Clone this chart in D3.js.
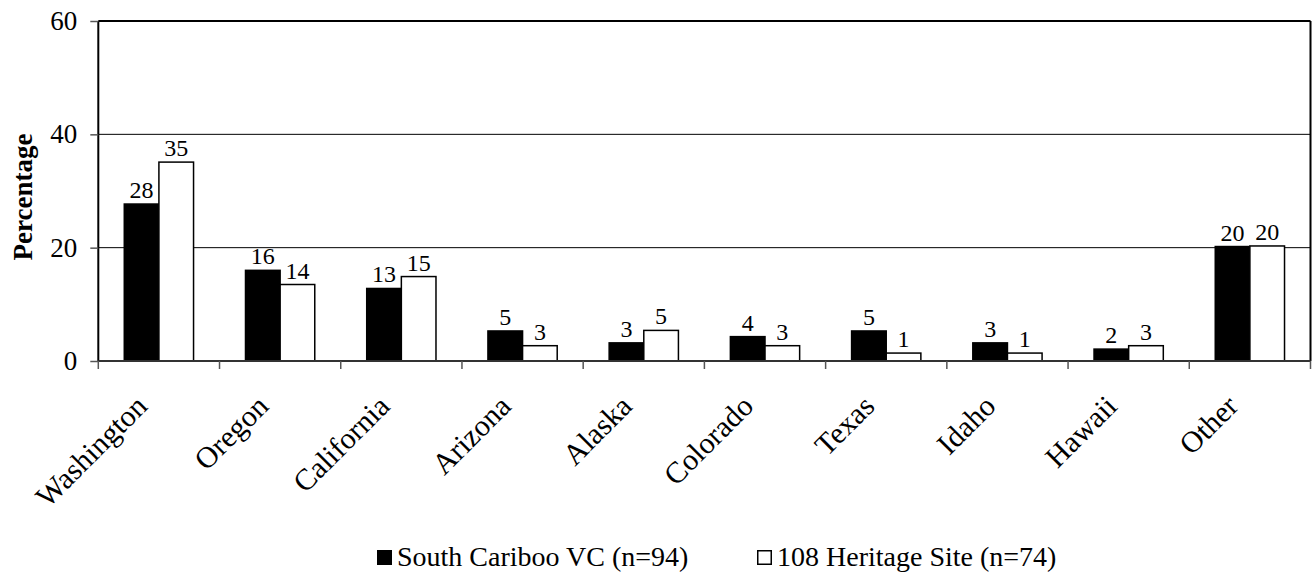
<!DOCTYPE html>
<html>
<head>
<meta charset="utf-8">
<script src="https://cdn.jsdelivr.net/npm/d3@7"></script>
<style>
  html, body { margin: 0; padding: 0; background: #fff; }
  svg { display: block; }
  text { font-family: "Liberation Serif", "Times New Roman", serif; fill: #000; }
</style>
</head>
<body>
<svg id="chart" width="1313" height="574"></svg>
<script>
// ---- data ----
const categories = ["Washington", "Oregon", "California", "Arizona", "Alaska", "Colorado", "Texas", "Idaho", "Hawaii", "Other"];
const seriesNames = ["South Cariboo VC (n=94)", "108 Heritage Site (n=74)"];
const southCariboo = [27.7, 16.0, 12.8, 5.3, 3.2, 4.3, 5.3, 3.2, 2.1, 20.2];
const heritage108 = [35.1, 13.5, 14.9, 2.7, 5.4, 2.7, 1.4, 1.4, 2.7, 20.3];
const yTicks = [0, 20, 40, 60];
const yTitle = "Percentage";

(function () {
// ---- layout ----
const svg = d3.select("#chart");
const pLeft = 98.3, pRight = 1310.5, pTop = 21, pBottom = 361;

const x = d3.scaleBand().domain(categories).range([pLeft, pRight]).paddingInner(0).paddingOuter(0);
const y = d3.scaleLinear().domain([0, 60]).range([pBottom, pTop]);
const barW = x.bandwidth() / 3.5;
const groupOffset = (x.bandwidth() - 2 * barW) / 2;

// gridlines
svg.append("g").selectAll("line").data(yTicks.filter(d => d > 0)).join("line")
  .attr("x1", pLeft).attr("x2", pRight)
  .attr("y1", d => y(d)).attr("y2", d => y(d))
  .attr("stroke", "#000")
  .attr("stroke-width", d => d === 60 ? 2 : 1);

// right border
svg.append("line").attr("x1", pRight).attr("x2", pRight).attr("y1", y(60)).attr("y2", y(0))
  .attr("stroke", "#000").attr("stroke-width", 2);

// bars
const data = categories.map((c, i) => ({ c, v: [southCariboo[i], heritage108[i]] }));
const g = svg.append("g");
data.forEach(d => {
  d.v.forEach((v, s) => {
    const bx = x(d.c) + groupOffset + s * barW;
    g.append("rect")
      .attr("x", bx).attr("y", y(v))
      .attr("width", barW).attr("height", y(0) - y(v))
      .attr("fill", s === 0 ? "#000" : "#fff")
      .attr("stroke", "#000").attr("stroke-width", 1.5);
    g.append("text")
      .attr("x", bx + barW / 2).attr("y", y(v) - 6)
      .attr("text-anchor", "middle")
      .style("font-size", "24px")
      .text(d3.format(".0f")(v));
  });
});

// y axis
const yAxis = d3.axisLeft(y).tickValues(yTicks).tickSize(8).tickPadding(13).tickFormat(d3.format("d"));
const ya = svg.append("g").attr("transform", `translate(${pLeft},0)`).call(yAxis);
ya.select(".domain").attr("stroke", "#000").attr("stroke-width", 2).attr("d", `M0,${pTop}V${pBottom}`);
ya.selectAll(".tick line").attr("stroke", "#555").attr("stroke-width", 1.5);
ya.selectAll(".tick text").style("font-size", "27px").style("font-family", "Liberation Serif").attr("fill", "#000");

// x axis line
svg.append("line").attr("x1", pLeft).attr("x2", pRight).attr("y1", pBottom).attr("y2", pBottom)
  .attr("stroke", "#333").attr("stroke-width", 2);
// x ticks at band boundaries
const bounds = categories.map(c => x(c)).concat([pRight]);
svg.append("g").selectAll("line").data(bounds).join("line")
  .attr("x1", d => d).attr("x2", d => d).attr("y1", pBottom).attr("y2", pBottom + 8)
  .attr("stroke", "#555").attr("stroke-width", 1.5);

// category labels
svg.append("g").selectAll("text").data(categories).join("text")
  .attr("transform", c => `translate(${x(c) + x.bandwidth() / 2 - 10},${pBottom + 47}) rotate(-45)`)
  .attr("text-anchor", "end")
  .style("font-size", "30px")
  .text(c => c);

// y title
svg.append("text")
  .attr("transform", `translate(32,${(132 + 262) / 2}) rotate(-90)`)
  .attr("text-anchor", "middle")
  .style("font-size", "27px").style("font-weight", "bold")
  .text(yTitle);

// legend
const legendX = [377, 757];
seriesNames.forEach((n, i) => {
  svg.append("rect").attr("x", legendX[i] + 0.75).attr("y", 550.75).attr("width", 13.5).attr("height", 13.5)
    .attr("fill", i === 0 ? "#000" : "#fff").attr("stroke", "#000").attr("stroke-width", 1.5);
  svg.append("text").attr("x", legendX[i] + 20).attr("y", 566)
    .style("font-size", "28px").text(n);
});
})();
</script>
</body>
</html>
